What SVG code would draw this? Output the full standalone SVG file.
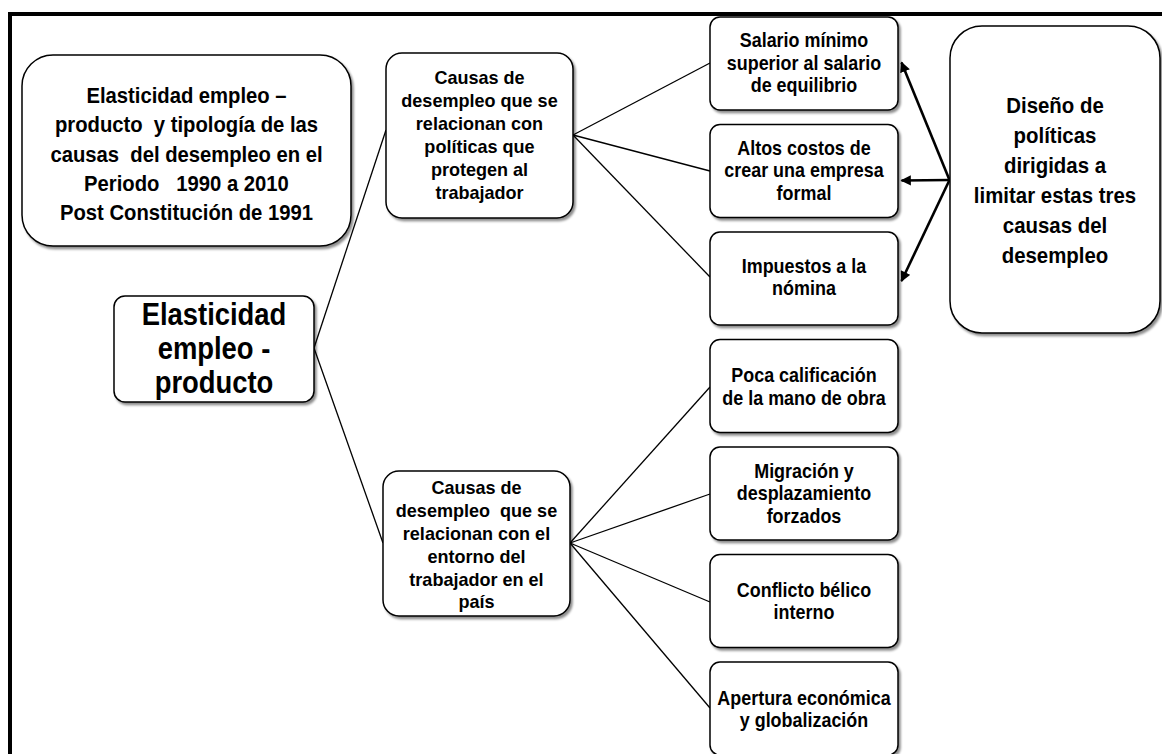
<svg xmlns="http://www.w3.org/2000/svg" width="1162" height="754" viewBox="0 0 1162 754">
<defs>
<filter id="sh" x="-10%" y="-10%" width="125%" height="125%">
<feDropShadow dx="2" dy="2.5" stdDeviation="1.2" flood-color="#000" flood-opacity="0.45"/>
</filter>
<marker id="ah" viewBox="0 0 10 10" refX="9" refY="5" markerWidth="4.2" markerHeight="4" orient="auto" markerUnits="strokeWidth">
<path d="M0,0 L10,5 L0,10 z" fill="#000"/>
</marker>
</defs>
<style>
.box{fill:#fff;stroke:#000;stroke-width:1.5;filter:url(#sh)}
.t{font-family:"Liberation Sans",Arial,sans-serif;font-weight:bold;fill:#000;text-anchor:middle;white-space:pre}
.s18{font-size:19.5px}
.s19{font-size:19px}
.s21{font-size:21.5px}
.s22{font-size:22.5px}
.s31{font-size:31.5px}
.ln{fill:none;stroke:#000;stroke-width:1.3}
.ar{fill:none;stroke:#000;stroke-width:2.6}
</style>
<rect x="0" y="0" width="1162" height="754" fill="#fff"/>
<path d="M10,760 L10,14 L1170,14" fill="none" stroke="#000" stroke-width="4"/>

<g id="connectors">
<line class="ln" x1="314" y1="348" x2="386" y2="130"/>
<line class="ln" x1="314" y1="348" x2="383" y2="543"/>
<line class="ln" x1="573" y1="135" x2="710" y2="63"/>
<line class="ln" x1="573" y1="135" x2="710" y2="171"/>
<line class="ln" x1="573" y1="135" x2="710" y2="277"/>
<line class="ln" x1="570" y1="543" x2="710" y2="387"/>
<line class="ln" x1="570" y1="543" x2="710" y2="494"/>
<line class="ln" x1="570" y1="543" x2="710" y2="602"/>
<line class="ln" x1="570" y1="543" x2="710" y2="708"/>
<line class="ar" x1="949.5" y1="180" x2="901.5" y2="62.5" marker-end="url(#ah)"/>
<line class="ar" x1="949.5" y1="180" x2="901.5" y2="180.5" marker-end="url(#ah)"/>
<line class="ar" x1="949.5" y1="180" x2="901.5" y2="281" marker-end="url(#ah)"/>
</g>

<g id="title">
<rect class="box" x="22" y="55" width="329" height="191" rx="31"/>
<g transform="translate(186.5 0) scale(0.9 1) translate(-186.5 0)">
<text class="t s22" x="186.5" y="103">Elasticidad empleo –</text>
<text class="t s22" x="186.5" y="132">producto  y tipología de las</text>
<text class="t s22" x="186.5" y="162">causas  del desempleo en el</text>
<text class="t s22" x="186.5" y="191">Periodo   1990 a 2010</text>
<text class="t s22" x="186.5" y="220">Post Constitución de 1991</text>
</g>
</g>

<g id="root">
<rect class="box" x="114" y="296" width="200" height="106" rx="11"/>
<g transform="translate(214 0) scale(0.87 1) translate(-214 0)">
<text class="t s31" x="214" y="325">Elasticidad</text>
<text class="t s31" x="214" y="359">empleo -</text>
<text class="t s31" x="214" y="393">producto</text>
</g>
</g>

<g id="causas1">
<rect class="box" x="386" y="53" width="187" height="165" rx="16"/>
<g transform="translate(479.5 0) scale(0.95 1) translate(-479.5 0)">
<text class="t s19" x="479.5" y="84">Causas de</text>
<text class="t s19" x="479.5" y="107">desempleo que se</text>
<text class="t s19" x="479.5" y="130">relacionan con</text>
<text class="t s19" x="479.5" y="153">políticas que</text>
<text class="t s19" x="479.5" y="176">protegen al</text>
<text class="t s19" x="479.5" y="199">trabajador</text>
</g>
</g>

<g id="causas2">
<rect class="box" x="383" y="471" width="187" height="145" rx="16"/>
<g transform="translate(476.5 0) scale(0.95 1) translate(-476.5 0)">
<text class="t s19" x="476.5" y="494">Causas de</text>
<text class="t s19" x="476.5" y="517">desempleo  que se</text>
<text class="t s19" x="476.5" y="540">relacionan con el</text>
<text class="t s19" x="476.5" y="563">entorno del</text>
<text class="t s19" x="476.5" y="586">trabajador en el</text>
<text class="t s19" x="476.5" y="608">país</text>
</g>
</g>

<g id="salario">
<rect class="box" x="710" y="17" width="188" height="93" rx="10"/>
<g transform="translate(804 0) scale(0.92 1) translate(-804 0)">
<text class="t s18" x="804" y="47">Salario mínimo</text>
<text class="t s18" x="804" y="70">superior al salario</text>
<text class="t s18" x="804" y="92">de equilibrio</text>
</g>
</g>

<g id="altos">
<rect class="box" x="710" y="124.5" width="188" height="93" rx="10"/>
<g transform="translate(804 0) scale(0.92 1) translate(-804 0)">
<text class="t s18" x="804" y="155">Altos costos de</text>
<text class="t s18" x="804" y="177">crear una empresa</text>
<text class="t s18" x="804" y="200">formal</text>
</g>
</g>

<g id="impuestos">
<rect class="box" x="710" y="232" width="188" height="93" rx="10"/>
<g transform="translate(804 0) scale(0.92 1) translate(-804 0)">
<text class="t s18" x="804" y="273">Impuestos a la</text>
<text class="t s18" x="804" y="295">nómina</text>
</g>
</g>

<g id="poca">
<rect class="box" x="710" y="339.5" width="188" height="93" rx="10"/>
<g transform="translate(804 0) scale(0.92 1) translate(-804 0)">
<text class="t s18" x="804" y="382">Poca calificación</text>
<text class="t s18" x="804" y="405">de la mano de obra</text>
</g>
</g>

<g id="migracion">
<rect class="box" x="710" y="447" width="188" height="93" rx="10"/>
<g transform="translate(804 0) scale(0.92 1) translate(-804 0)">
<text class="t s18" x="804" y="478">Migración y</text>
<text class="t s18" x="804" y="500">desplazamiento</text>
<text class="t s18" x="804" y="523">forzados</text>
</g>
</g>

<g id="conflicto">
<rect class="box" x="710" y="554.5" width="188" height="93" rx="10"/>
<g transform="translate(804 0) scale(0.92 1) translate(-804 0)">
<text class="t s18" x="804" y="597">Conflicto bélico</text>
<text class="t s18" x="804" y="619">interno</text>
</g>
</g>

<g id="apertura">
<rect class="box" x="710" y="662" width="188" height="93" rx="10"/>
<g transform="translate(804 0) scale(0.92 1) translate(-804 0)">
<text class="t s18" x="804" y="705">Apertura económica</text>
<text class="t s18" x="804" y="727">y globalización</text>
</g>
</g>

<g id="diseno">
<rect class="box" x="950" y="26" width="210" height="307" rx="32"/>
<g transform="translate(1055 0) scale(0.95 1) translate(-1055 0)">
<text class="t s21" x="1055" y="113">Diseño de</text>
<text class="t s21" x="1055" y="143">políticas</text>
<text class="t s21" x="1055" y="173">dirigidas a</text>
<text class="t s21" x="1055" y="203">limitar estas tres</text>
<text class="t s21" x="1055" y="233">causas del</text>
<text class="t s21" x="1055" y="263">desempleo</text>
</g>
</g>
</svg>
